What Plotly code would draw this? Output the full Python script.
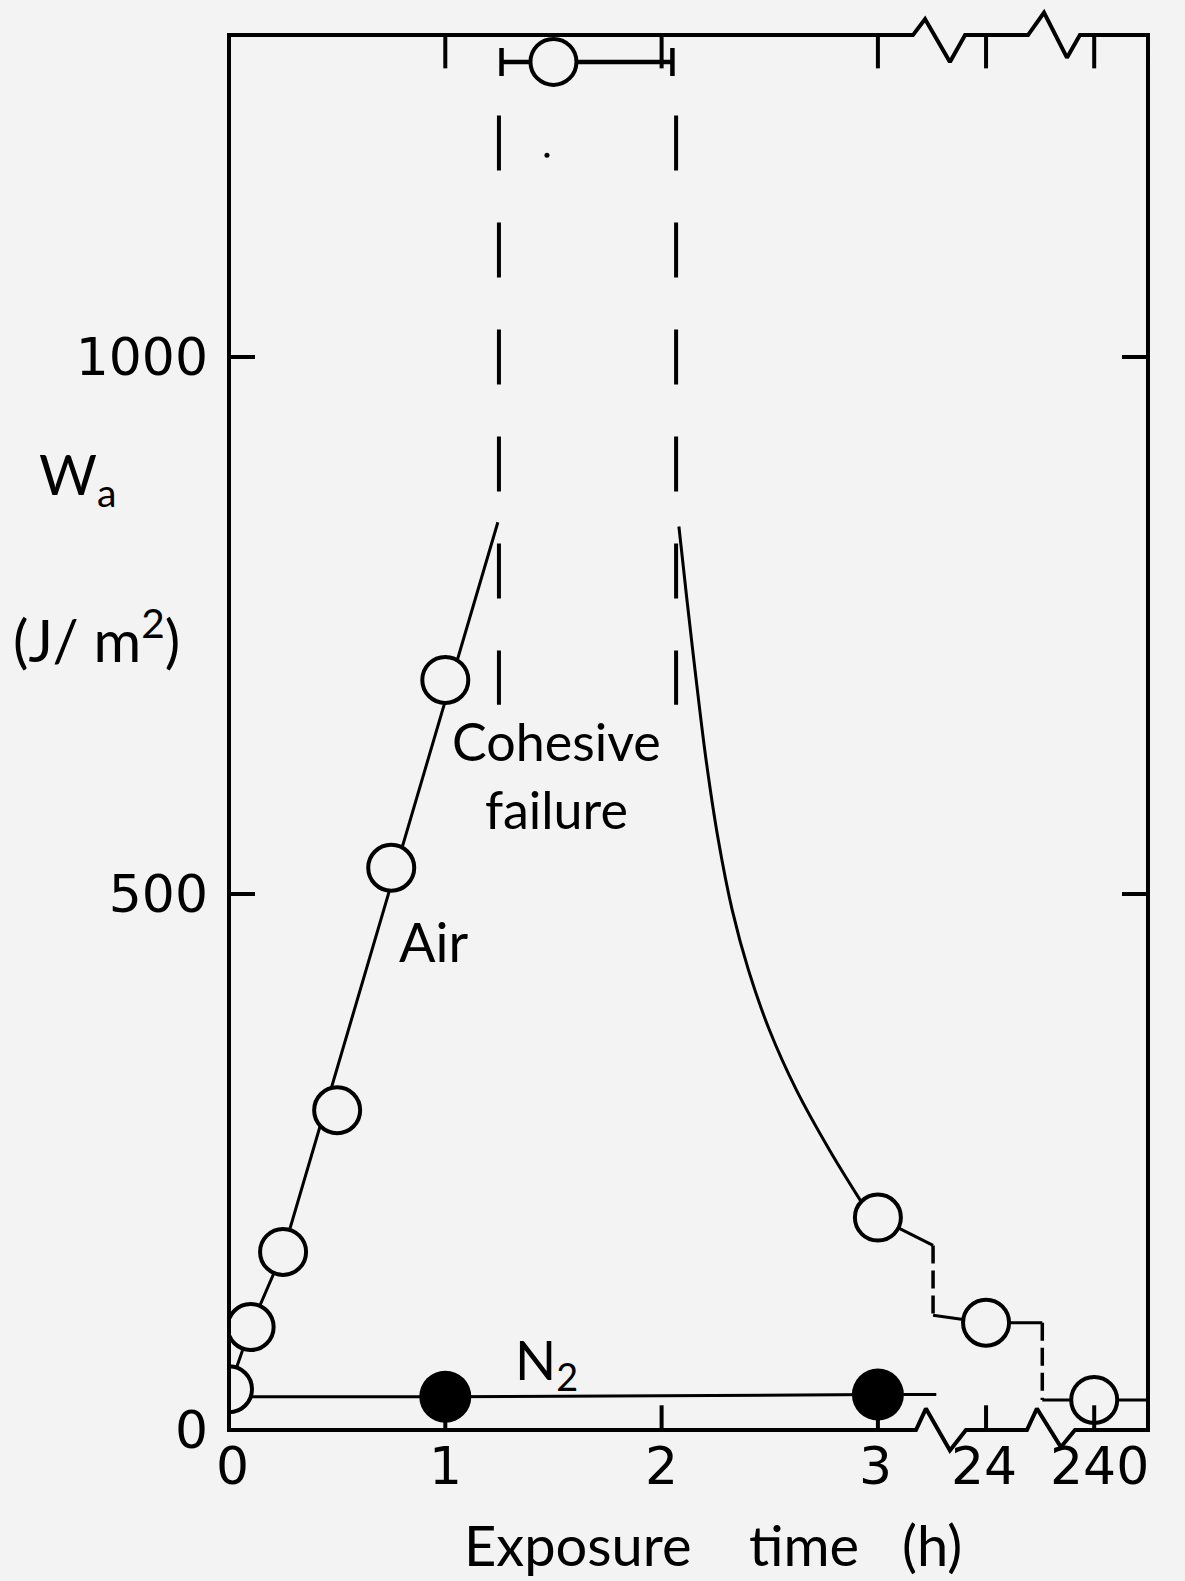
import plotly.graph_objects as go

# ---------------- data ----------------
# x is the (broken) axis position: 0-3 h linear, 3.5 stands for 24 h, 4.0 for 240 h
tick_vals = [0, 1, 2, 3, 3.5, 4.0]
tick_text = ["0", "1", "2", "3", "24", "240"]
y_tick_vals = [0, 500, 1000]
y_tick_text = ["0", "500", "1000"]

# Air, adhesive failure (open circles)
air_time = [0, 0.1, 0.25, 0.5, 0.75, 1.0, 3.0, 3.5, 4.0]
air_wa = [38, 96, 166, 298, 524, 699, 198, 100, 28]

# Air, cohesive failure point with its time range
coh_time = [1.5]
coh_wa = [1275]
coh_time_lo = [1.26]
coh_time_hi = [2.05]

# N2 (filled circles)
n2_time = [1.0, 3.0]
n2_wa = [31, 33]
n2_line_time = [0, 1.0, 3.0, 3.27]
n2_line_wa = [31, 31, 33, 33]

# hand-drawn curves
air_rise_time = [0, 0.1, 0.25, 1.243]
air_rise_wa = [38, 96, 166, 846]
air_decay_time = [2.080, 2.117, 2.160, 2.206, 2.262, 2.326, 2.401, 2.498, 2.623, 2.776, 2.919]
air_decay_wa = [842, 774, 699, 624, 550, 485, 429, 373, 317, 261, 214]
tail_solid_time = [3.0, 3.255, None, 3.255, 3.5, 3.76, None, 3.76, 4.0, 4.25]
tail_solid_wa = [198, 172, None, 107, 100, 100, None, 28, 28, 28]
tail_dash_time = [3.255, 3.255, None, 3.76, 3.76]
tail_dash_wa = [172, 107, None, 100, 28]

# cohesive-failure region boundaries
coh_bound_time = [1.248, 2.067]
coh_bound_top = 1225
coh_bound_bottom = 676

speck_time = [1.47]
speck_wa = [1188]

# axis breaks (zigzags), axis units
x_frame_right = 4.2487
y_frame_top = 1300
bottom_breaks = [([3.176, 3.222, 3.333, 3.407], [0, 20, -19, 0]),
                 ([3.689, 3.735, 3.846, 3.911], [0, 20, -16, 0])]
top_breaks = [([3.162, 3.218, 3.333, 3.403], [1300, 1315, 1275, 1300]),
              ([3.694, 3.768, 3.874, 3.934], [1300, 1321, 1279, 1300])]

# ---------------- layout geometry ----------------
W, H = 1185, 1581
PL, PR, PT, PB = 227, 1150, 5, 1460          # plotting-area pixel box
X0_PX, X_PER_UNIT = 229, 216.3
Y0_PX, Y_PER_UNIT = 1430, 1.073
x_range = [(PL - X0_PX) / X_PER_UNIT, (PR - X0_PX) / X_PER_UNIT]
y_range = [(Y0_PX - PB) / Y_PER_UNIT, (Y0_PX - PT) / Y_PER_UNIT]


def px_x(px):
    return (px - PL) / (PR - PL)


def px_y(py):
    return (PB - py) / (PB - PT)


BG = "#f3f3f3"
INK = "#000000"
FONT = "Lato, 'Open Sans', sans-serif"
NUM_FONT = "'DejaVu Sans', 'Open Sans', sans-serif"

fig = go.Figure()

# frame with broken axes
fx, fy = [0], [0]
for bx, by in bottom_breaks:
    fx += bx
    fy += by
fx += [x_frame_right, x_frame_right]
fy += [0, y_frame_top]
for bx, by in reversed(top_breaks):
    fx += bx[::-1]
    fy += by[::-1]
fx += [0, 0]
fy += [y_frame_top, 0]

# x tick marks (inside, top and bottom)
tx, ty = [], []
for t in tick_vals[1:]:
    tx += [t, t, None, t, t, None]
    ty += [0, 23, None, y_frame_top, y_frame_top - 31, None]

line_style = dict(color=INK, width=3)

fig.add_trace(go.Scatter(x=coh_bound_time[:1] * 2 + [None] + coh_bound_time[1:] * 2,
                         y=[coh_bound_top, coh_bound_bottom, None, coh_bound_top, coh_bound_bottom],
                         mode="lines", line=dict(color=INK, width=4, dash="55px,52px"),
                         hoverinfo="skip"))
fig.add_trace(go.Scatter(x=air_rise_time, y=air_rise_wa, mode="lines", line=line_style))
fig.add_trace(go.Scatter(x=air_decay_time, y=air_decay_wa, mode="lines",
                         line=dict(color=INK, width=3, shape="spline", smoothing=1.0)))
fig.add_trace(go.Scatter(x=tail_solid_time, y=tail_solid_wa, mode="lines", line=line_style))
fig.add_trace(go.Scatter(x=tail_dash_time, y=tail_dash_wa, mode="lines",
                         line=dict(color=INK, width=3.5, dash="18px,7px")))
fig.add_trace(go.Scatter(x=n2_line_time, y=n2_line_wa, mode="lines", line=line_style))

# cohesive failure point with range bar
fig.add_trace(go.Scatter(
    x=coh_time, y=coh_wa, mode="markers",
    marker=dict(symbol="circle", size=46, color=BG, line=dict(color=INK, width=4)),
    error_x=dict(type="data", symmetric=False,
                 array=[h - c for h, c in zip(coh_time_hi, coh_time)],
                 arrayminus=[c - l for l, c in zip(coh_time_lo, coh_time)],
                 color=INK, thickness=4.5, width=14)))
fig.add_trace(go.Scatter(x=air_time, y=air_wa, mode="markers",
                         marker=dict(symbol="circle", size=46, color=BG,
                                     line=dict(color=INK, width=4))))
fig.add_trace(go.Scatter(x=n2_time, y=n2_wa, mode="markers",
                         marker=dict(symbol="circle", size=52, color=INK, line=dict(width=0))))
fig.add_trace(go.Scatter(x=speck_time, y=speck_wa, mode="markers",
                         marker=dict(size=5, color=INK)))

fig.add_trace(go.Scatter(x=tx, y=ty, mode="lines", line=dict(color=INK, width=4)))
fig.add_trace(go.Scatter(x=fx, y=fy, mode="lines", line=dict(color=INK, width=4)))

# x tick labels
x_label_shift = [3, 0, 0, -2, -2, 5]
annotations = []
for v, t, s in zip(tick_vals, tick_text, x_label_shift):
    annotations.append(dict(x=v, xref="x", y=px_y(1466), yref="paper", text=t,
                            showarrow=False, xanchor="center", yanchor="middle",
                            xshift=s, font=dict(size=52, family=NUM_FONT)))

texts = [
    ("W<sub>a</sub>", 37, 478, "left", "middle", 56),
    ("(J/\u00a0m<sup>2</sup>)", 11, 636, "left", "middle", 58),
    ("Cohesive<br>failure", 556, 775, "center", "middle", 52),
    ("Air", 433, 942, "center", "middle", 54),
    ("N<sub>2</sub>", 546, 1363, "center", "middle", 54),
    ("Exposure\u00a0\u00a0\u00a0\u00a0time\u00a0\u00a0\u00a0(h)", 462, 1580, "left", "bottom", 56),
]
for txt, x, y, xa, ya, size in texts:
    annotations.append(dict(x=px_x(x), xref="paper", y=px_y(y), yref="paper", text=txt,
                            showarrow=False, xanchor=xa, yanchor=ya,
                            font=dict(size=size)))

fig.update_layout(
    width=W, height=H,
    margin=dict(l=PL, r=W - PR, t=PT, b=H - PB, pad=0),
    paper_bgcolor=BG, plot_bgcolor=BG,
    showlegend=False,
    font=dict(family=FONT, color=INK, size=52),
    annotations=annotations,
    xaxis=dict(range=x_range, showgrid=False, zeroline=False, showline=False,
               showticklabels=False, ticks=""),
    yaxis=dict(range=y_range, showgrid=False, zeroline=False, showline=False,
               tickvals=y_tick_vals, ticktext=y_tick_text, ticks="inside",
               ticklen=28, tickwidth=4, tickcolor=INK, mirror="ticks",
               ticklabelstandoff=18, tickfont=dict(size=52, family=NUM_FONT)),
)

fig.write_html("out.html", config={"displayModeBar": False},
               post_script="document.body.style.margin='0px';")
